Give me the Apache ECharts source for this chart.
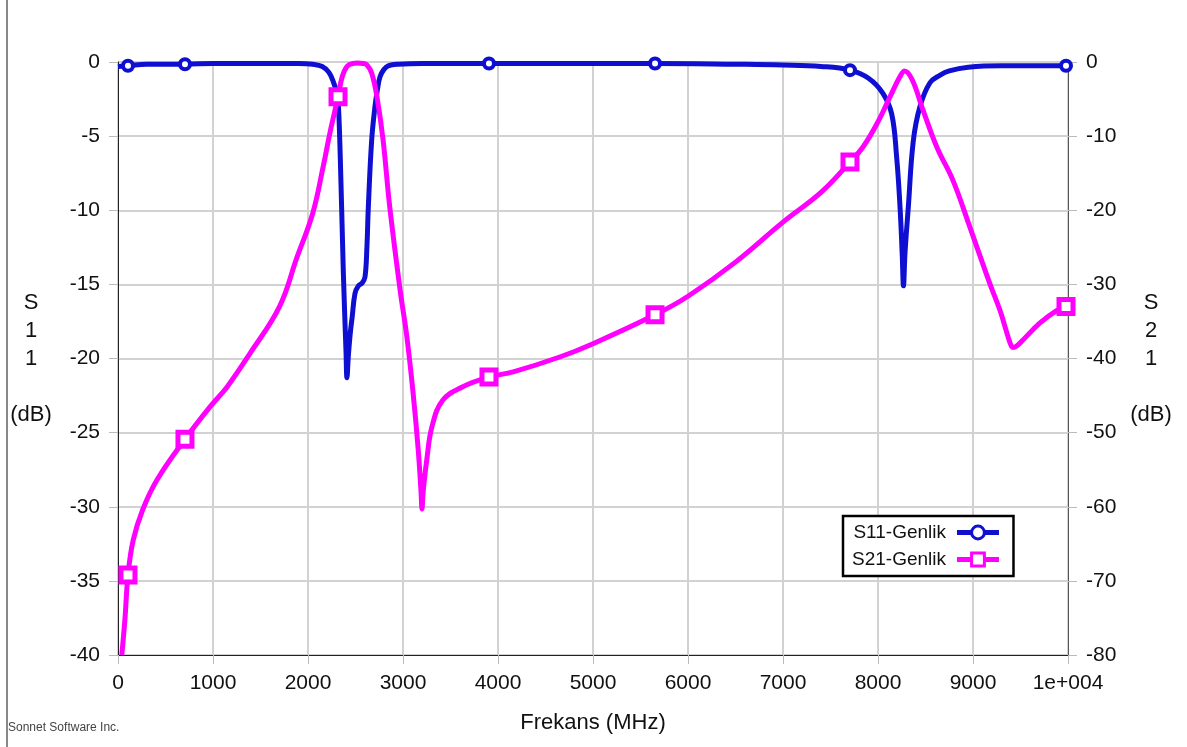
<!DOCTYPE html>
<html><head><meta charset="utf-8">
<script src="https://cdn.jsdelivr.net/npm/echarts@6/dist/echarts.min.js"></script>
<style>html,body{margin:0;padding:0;background:#fff}#c{width:1187px;height:747px}</style>
</head><body><div id="c"></div>
<script>
const xTickValues = [0, 1000, 2000, 3000, 4000, 5000, 6000, 7000, 8000, 9000, 10000];
const xTickLabels = ['0', '1000', '2000', '3000', '4000', '5000', '6000', '7000', '8000', '9000', '1e+004'];

const s11Freq = [0, 105, 300, 705, 1000, 1500, 1900, 2050, 2150, 2220, 2270, 2300, 2316, 2340, 2372, 2400, 2410, 2425, 2445, 2465, 2495, 2530, 2570, 2600, 2620, 2635, 2670, 2705, 2730, 2758, 2800, 2850, 2950, 3200, 3905, 5000, 5653, 6500, 7000, 7400, 7705, 7900, 8050, 8144, 8196, 8232, 8255, 8268, 8285, 8319, 8372, 8442, 8547, 8650, 8750, 8950, 9300, 9979, 10000];
const s11Val = [-0.3, -0.25, -0.15, -0.15, -0.1, -0.1, -0.1, -0.15, -0.3, -0.7, -1.4, -2.0, -2.4, -6.5, -14.2, -19.5, -21.3, -19.8, -18.3, -17.2, -15.6, -15.1, -14.9, -14.5, -12.5, -9.8, -5.3, -3.0, -1.9, -1.0, -0.5, -0.25, -0.15, -0.1, -0.1, -0.1, -0.1, -0.15, -0.2, -0.3, -0.55, -1.1, -2.1, -3.5, -6.4, -9.8, -13.0, -15.1, -12.8, -9.8, -5.3, -3.0, -1.4, -0.9, -0.6, -0.35, -0.25, -0.25, -0.25];

const s21Freq = [40, 74, 105, 160, 260, 410, 705, 970, 1150, 1390, 1700, 1880, 2050, 2160, 2230, 2316, 2360, 2410, 2470, 2520, 2580, 2620, 2670, 2726, 2790, 2860, 2970, 3040, 3105, 3160, 3190, 3200, 3212, 3250, 3305, 3420, 3630, 3905, 4160, 4650, 5000, 5653, 6000, 6500, 7000, 7400, 7705, 7840, 7990, 8126, 8230, 8280, 8360, 8474, 8620, 8790, 8968, 9042, 9180, 9284, 9390, 9420, 9460, 9526, 9705, 9884, 9979, 10000];
const s21Val = [-80, -75, -69.2, -64.5, -60.4, -56.4, -50.9, -46.5, -43.8, -39.3, -33.0, -26.5, -20.4, -14.1, -9.6, -4.7, -2.0, -0.6, -0.2, -0.15, -0.2, -0.4, -1.5, -4.7, -10.5, -19.5, -30.8, -37.0, -44.5, -52.3, -58.0, -60.3, -58.0, -53.7, -49.2, -45.6, -43.8, -42.5, -41.8, -39.8, -38.0, -34.1, -31.6, -27.0, -21.6, -17.6, -13.5, -11.5, -8.3, -4.7, -2.0, -1.2, -2.4, -6.5, -11.5, -16.0, -22.3, -25.0, -30.0, -33.5, -37.9, -38.5, -38.3, -37.5, -35.2, -33.5, -33.0, -32.8];

const markerFreq = [105, 705, 2316, 3905, 5653, 7705, 9979];

const FONT = '"Liberation Sans", Arial, sans-serif';
const BLUE = '#0f0fd2';
const MAGENTA = '#ff00ff';

function build(freqs, vals, sym) {
  return freqs.map((f, i) => ({
    value: [f, vals[i]],
    symbol: markerFreq.indexOf(f) >= 0 ? sym : 'none'
  }));
}

const chart = echarts.init(document.getElementById('c'), null, {renderer: 'canvas'});
chart.setOption({
  animation: false,
  backgroundColor: '#fff',
  grid: {left: 118, right: 119, top: 62, bottom: 92, containLabel: false, outerBoundsMode: 'none',
         show: true, borderColor: '#444', borderWidth: 1, backgroundColor: 'transparent'},
  legend: {
    orient: 'vertical', left: 843, top: 516, align: 'right',
    itemWidth: 42, itemHeight: 16, itemGap: 8,
    padding: [7, 12, 7, 9],
    borderColor: '#000', borderWidth: 2.5, backgroundColor: '#fff',
    lineStyle: {width: 5},
    itemStyle: {borderWidth: 3},
    textStyle: {fontSize: 19, color: '#111', fontFamily: FONT, padding: [0, 6, 0, 0]},
    data: ['S11-Genlik', 'S21-Genlik']
  },
  xAxis: {
    type: 'value', min: 0, max: 10000, interval: 1000,
    name: 'Frekans (MHz)', nameLocation: 'middle', nameGap: 57,
    nameTextStyle: {fontSize: 22, color: '#111', fontFamily: FONT},
    axisLine: {show: true, onZero: false, lineStyle: {color: '#222', width: 1}},
    axisTick: {show: true, length: 9, lineStyle: {color: '#bbb', width: 1}},
    axisLabel: {margin: 18, fontSize: 21, color: '#111', fontFamily: FONT,
      formatter: v => { const k = xTickValues.indexOf(v); return k >= 0 ? xTickLabels[k] : ''; }},
    splitLine: {show: true, lineStyle: {color: '#d2d2d2', width: 2}}
  },
  yAxis: [{
    type: 'value', min: -40, max: 0, interval: 5, position: 'left',
    name: 'S\n1\n1\n\n(dB)', nameLocation: 'middle', nameRotate: 0, nameGap: 87,
    nameTextStyle: {fontSize: 22, lineHeight: 28, color: '#111', fontFamily: FONT, align: 'center', verticalAlign: 'middle'},
    axisLine: {show: true, onZero: false, lineStyle: {color: '#222', width: 1}},
    axisTick: {show: true, length: 9, lineStyle: {color: '#bbb', width: 1}},
    axisLabel: {margin: 18, fontSize: 21, color: '#111', fontFamily: FONT},
    splitLine: {show: true, lineStyle: {color: '#d2d2d2', width: 2}}
  }, {
    type: 'value', min: -80, max: 0, interval: 10, position: 'right',
    name: 'S\n2\n1\n\n(dB)', nameLocation: 'middle', nameRotate: 0, nameGap: 83,
    nameTextStyle: {fontSize: 22, lineHeight: 28, color: '#111', fontFamily: FONT, align: 'center', verticalAlign: 'middle'},
    axisLine: {show: true, onZero: false, lineStyle: {color: '#555', width: 1}},
    axisTick: {show: true, length: 9, lineStyle: {color: '#bbb', width: 1}},
    axisLabel: {margin: 18, fontSize: 21, color: '#111', fontFamily: FONT},
    splitLine: {show: false}
  }],
  series: [{
    name: 'S11-Genlik', type: 'line', yAxisIndex: 0,
    data: build(s11Freq, s11Val, 'circle'),
    symbol: 'circle', symbolSize: 10, showSymbol: true, showAllSymbol: true,
    smooth: 0.4,
    lineStyle: {color: BLUE, width: 5},
    itemStyle: {color: '#fff', borderColor: BLUE, borderWidth: 4},
    z: 3
  }, {
    name: 'S21-Genlik', type: 'line', yAxisIndex: 1,
    data: build(s21Freq, s21Val, 'rect'),
    symbol: 'rect', symbolSize: 14, showSymbol: true, showAllSymbol: true,
    smooth: 0.4,
    lineStyle: {color: MAGENTA, width: 5},
    itemStyle: {color: '#fff', borderColor: MAGENTA, borderWidth: 5},
    z: 4
  }],
  graphic: [{
    type: 'line', shape: {x1: 7, y1: 0, x2: 7, y2: 747},
    style: {stroke: '#888', lineWidth: 2}, silent: true
  }, {
    type: 'text', left: 8, top: 722,
    style: {text: 'Sonnet Software Inc.', fontSize: 12, fill: '#444', fontFamily: FONT}
  }]
});
</script>
</body></html>
